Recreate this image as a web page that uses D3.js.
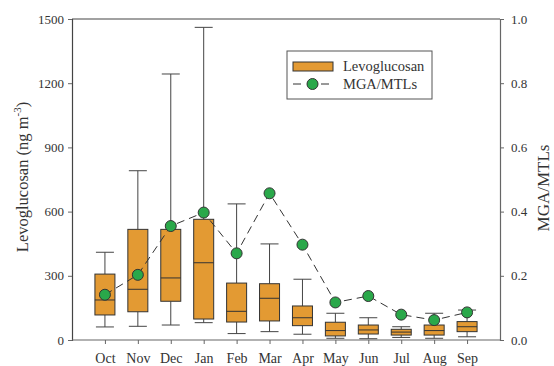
<!DOCTYPE html>
<html>
<head>
<meta charset="utf-8">
<script src="https://cdn.jsdelivr.net/npm/d3@7"></script>
<style>
  body { margin: 0; background: #fff; }
  text { font-family: "Liberation Serif", "Times New Roman", serif; fill: #333; }
</style>
</head>
<body>
<script>
const months = ["Oct", "Nov", "Dec", "Jan", "Feb", "Mar", "Apr", "May", "Jun", "Jul", "Aug", "Sep"];
const whiskerLow  = [61, 64, 70, 81, 30, 39, 27, 8, 6, 12, 8, 15];
const q1          = [117, 132, 181, 98, 84, 89, 67, 19, 28, 23, 23, 39];
const median      = [187, 237, 290, 361, 134, 195, 104, 44, 47, 37, 44, 62];
const q3          = [308, 517, 517, 564, 266, 263, 159, 83, 70, 50, 70, 86];
const whiskerHigh = [410, 791, 1243, 1461, 636, 449, 284, 125, 104, 62, 125, 140];
const ratio       = [0.141, 0.203, 0.355, 0.397, 0.270, 0.457, 0.297, 0.117, 0.137, 0.079, 0.062, 0.086];
const leftTicks = [0, 300, 600, 900, 1200, 1500];
const rightTicks = [0, 0.2, 0.4, 0.6, 0.8, 1.0];

const width = 554, height = 366;
const margin = { top: 19, right: 54, bottom: 26, left: 72 };
const x0 = margin.left, x1 = width - margin.right;
const y0 = height - margin.bottom, y1 = margin.top;

const orange = "#e39a33";
const green = "#2aa84a";
const serif = "'Liberation Serif', 'Times New Roman', serif";

const data = months.map((m, i) => ({
  month: m, idx: i + 1,
  lo: whiskerLow[i], q1: q1[i], med: median[i], q3: q3[i], hi: whiskerHigh[i], r: ratio[i]
}));

const x = d3.scaleLinear().domain([0, 13]).range([x0, x1]);
const y = d3.scaleLinear().domain([0, 1500]).range([y0, y1]);
const yR = d3.scaleLinear().domain([0, 1]).range([y0, y1]);

const svg = d3.select("body").append("svg")
  .attr("width", width)
  .attr("height", height);

// top frame line
svg.append("line")
  .attr("x1", x0).attr("x2", x1)
  .attr("y1", y1).attr("y2", y1)
  .attr("stroke", "#444").attr("stroke-width", 1.2);

// axes
const leftAxis = svg.append("g")
  .attr("transform", `translate(${x0},0)`)
  .call(d3.axisLeft(y).tickValues(leftTicks).tickFormat(d3.format("d")).tickSize(4).tickPadding(4));
const rightAxis = svg.append("g")
  .attr("transform", `translate(${x1},0)`)
  .call(d3.axisRight(yR).tickValues(rightTicks).tickFormat(d3.format(".1f")).tickSize(4).tickPadding(7));
const bottomAxis = svg.append("g")
  .attr("transform", `translate(0,${y0})`)
  .call(d3.axisBottom(x).tickValues(data.map(d => d.idx)).tickFormat((d, i) => months[i]).tickSize(4).tickPadding(9));

[leftAxis, rightAxis, bottomAxis].forEach(g => {
  g.attr("font-family", serif);
  g.select(".domain").attr("stroke", "#666").attr("stroke-width", 1.2);
  g.selectAll(".tick line").attr("stroke", "#666");
  g.selectAll(".tick text")
    .style("font-size", "13px")
    .attr("fill", "#333");
});
bottomAxis.selectAll(".tick text").style("font-size", "14px");
leftAxis.select(".domain").attr("stroke", "#444");
bottomAxis.select(".domain").attr("d", `M${x0},0H${x1}`);

// axis titles
const lt = svg.append("text")
  .attr("transform", `translate(28,177) rotate(-90)`)
  .attr("text-anchor", "middle")
  .style("font-size", "16.5px");
lt.append("tspan").text("Levoglucosan (ng m");
lt.append("tspan").attr("dy", -7).style("font-size", "11px").text("-3");
lt.append("tspan").attr("dy", 7).text(")");

svg.append("text")
  .attr("transform", `translate(549,188) rotate(-90)`)
  .attr("text-anchor", "middle")
  .style("font-size", "17px")
  .text("MGA/MTLs");

// boxes
const boxW = 20, capW = 18;
const boxes = svg.append("g").selectAll("g").data(data).join("g");

boxes.append("line")
  .attr("x1", d => x(d.idx)).attr("x2", d => x(d.idx))
  .attr("y1", d => y(d.hi)).attr("y2", d => y(d.q3))
  .attr("stroke", "#444");
boxes.append("line")
  .attr("x1", d => x(d.idx)).attr("x2", d => x(d.idx))
  .attr("y1", d => y(d.q1)).attr("y2", d => y(d.lo))
  .attr("stroke", "#444");
boxes.append("line")
  .attr("x1", d => x(d.idx) - capW / 2).attr("x2", d => x(d.idx) + capW / 2)
  .attr("y1", d => y(d.hi)).attr("y2", d => y(d.hi))
  .attr("stroke", "#444");
boxes.append("line")
  .attr("x1", d => x(d.idx) - capW / 2).attr("x2", d => x(d.idx) + capW / 2)
  .attr("y1", d => y(d.lo)).attr("y2", d => y(d.lo))
  .attr("stroke", "#444");
boxes.append("rect")
  .attr("x", d => x(d.idx) - boxW / 2)
  .attr("y", d => y(d.q3))
  .attr("width", boxW)
  .attr("height", d => y(d.q1) - y(d.q3))
  .attr("fill", orange)
  .attr("stroke", "#333");
boxes.append("line")
  .attr("x1", d => x(d.idx) - boxW / 2).attr("x2", d => x(d.idx) + boxW / 2)
  .attr("y1", d => y(d.med)).attr("y2", d => y(d.med))
  .attr("stroke", "#333");

// MGA/MTLs line
svg.append("path")
  .datum(data)
  .attr("fill", "none")
  .attr("stroke", "#333")
  .attr("stroke-width", 1)
  .attr("stroke-dasharray", "8,5")
  .attr("d", d3.line().x(d => x(d.idx)).y(d => yR(d.r)));

svg.append("g").selectAll("circle")
  .data(data)
  .join("circle")
  .attr("cx", d => x(d.idx))
  .attr("cy", d => yR(d.r))
  .attr("r", 5.5)
  .attr("fill", green)
  .attr("stroke", "#333");

// legend
const lg = svg.append("g");
lg.append("rect")
  .attr("x", 287).attr("y", 51)
  .attr("width", 145).attr("height", 48)
  .attr("fill", "#fff").attr("stroke", "#555");
lg.append("rect")
  .attr("x", 293).attr("y", 62)
  .attr("width", 40).attr("height", 9)
  .attr("fill", orange).attr("stroke", "#333");
lg.append("line")
  .attr("x1", 293).attr("x2", 333)
  .attr("y1", 84).attr("y2", 84)
  .attr("stroke", "#333").attr("stroke-dasharray", "8,6");
lg.append("circle")
  .attr("cx", 312.5).attr("cy", 84).attr("r", 5.5)
  .attr("fill", green).attr("stroke", "#333");
lg.append("text").attr("x", 343).attr("y", 71)
  .style("font-size", "14.5px").text("Levoglucosan");
lg.append("text").attr("x", 343).attr("y", 89)
  .style("font-size", "14.5px").text("MGA/MTLs");
</script>
</body>
</html>
